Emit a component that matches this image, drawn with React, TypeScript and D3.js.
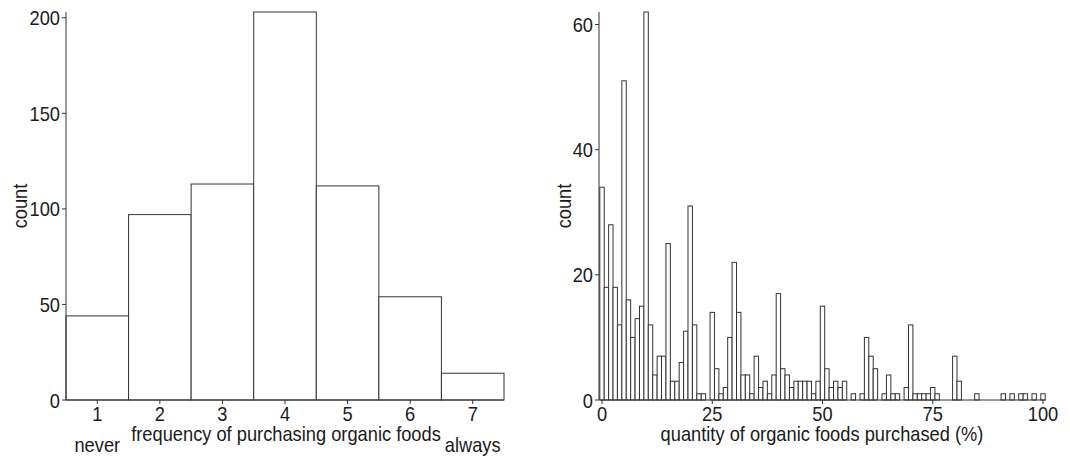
import React from "react";
import * as d3 from "d3";

// Frequency of purchasing organic foods (1 = never … 7 = always)
const frequencyLevels = [1, 2, 3, 4, 5, 6, 7];
const frequencyCounts = [44, 97, 113, 203, 112, 54, 14];
const frequencyTicks = [1, 2, 3, 4, 5, 6, 7];
const frequencyCountTicks = [0, 50, 100, 150, 200];

// Quantity of organic foods purchased (%), one bin per integer percent 0..100
const quantityCounts = [
  34, 18, 28, 18, 12, 51, 16, 10, 13, 15,
  62, 12, 4, 7, 7, 25, 3, 3, 6, 11,
  31, 12, 1, 1, 0, 14, 5, 1, 2, 10,
  22, 14, 4, 4, 1, 7, 2, 3, 1, 4,
  17, 5, 4, 2, 3, 3, 3, 3, 1, 3,
  15, 5, 2, 3, 2, 3, 0, 1, 0, 1,
  10, 7, 5, 0, 1, 4, 1, 1, 0, 2,
  12, 1, 1, 1, 1, 2, 1, 0, 0, 0,
  7, 3, 0, 0, 0, 1, 0, 0, 0, 0,
  0, 1, 0, 1, 0, 1, 1, 0, 1, 0,
  1,
];
const quantityTicks = [0, 25, 50, 75, 100];
const quantityCountTicks = [0, 20, 40, 60];

const FONT = "'Liberation Sans', Arial, sans-serif";
const INK = "#333333";
const TEXT = "#1a1a1a";
const FS = 21;
const SX = 0.87; // horizontal condensing of the sans face

const TOP = 12;
const BOTTOM = 400;

function Label({
  x,
  y,
  anchor = "middle",
  rotate = 0,
  dy,
  children,
}: {
  x: number;
  y: number;
  anchor?: string;
  rotate?: number;
  dy?: string;
  children: React.ReactNode;
}) {
  return (
    <text
      transform={`translate(${x},${y}) rotate(${rotate}) scale(${SX},1)`}
      textAnchor={anchor}
      dy={dy}
      fontSize={FS}
      fontFamily={FONT}
      fill={TEXT}
    >
      {children}
    </text>
  );
}

function YAxis({ x, y, ticks }: { x: number; y: d3.ScaleLinear<number, number>; ticks: number[] }) {
  const [r0, r1] = y.range();
  return (
    <g>
      <line x1={x} x2={x} y1={r0} y2={r1} stroke={INK} strokeWidth={1} />
      {ticks.map((t) => (
        <g key={t}>
          <line x1={x - 4} x2={x} y1={y(t)} y2={y(t)} stroke={INK} strokeWidth={1} />
          <Label x={x - 6} y={y(t)} anchor="end" dy="0.36em">
            {t}
          </Label>
        </g>
      ))}
    </g>
  );
}

function XAxis({ y, x, ticks }: { y: number; x: d3.ScaleLinear<number, number>; ticks: number[] }) {
  const [r0, r1] = x.range();
  return (
    <g>
      <line x1={r0} x2={r1} y1={y} y2={y} stroke={INK} strokeWidth={1} />
      {ticks.map((t) => (
        <g key={t}>
          <line x1={x(t)} x2={x(t)} y1={y} y2={y + 4} stroke={INK} strokeWidth={1} />
          <Label x={x(t)} y={y + 21}>
            {t}
          </Label>
        </g>
      ))}
    </g>
  );
}

export default function App() {
  // Left panel: frequency histogram
  const fx = d3.scaleLinear().domain([0.5, 7.5]).range([66, 504]);
  const fy = d3.scaleLinear().domain([0, d3.max(frequencyCounts) as number]).range([BOTTOM, TOP]);

  // Right panel: quantity histogram
  const qx = d3.scaleLinear().domain([-0.5, 100.5]).range([599.8, 1045.2]);
  const qy = d3.scaleLinear().domain([0, d3.max(quantityCounts) as number]).range([BOTTOM, TOP]);

  return (
    <svg
      width={1070}
      height={461}
      style={{ position: "absolute", left: 0, top: 0, background: "#fff" }}
    >
      <rect x={0} y={0} width={1070} height={461} fill="#fff" />

      {/* frequency bars */}
      <g>
        {frequencyLevels.map((lvl, i) => (
          <rect
            key={lvl}
            x={fx(lvl - 0.5)}
            y={fy(frequencyCounts[i])}
            width={fx(lvl + 0.5) - fx(lvl - 0.5)}
            height={fy(0) - fy(frequencyCounts[i])}
            fill="#fff"
            stroke={INK}
            strokeWidth={1}
          />
        ))}
      </g>
      <YAxis x={66} y={fy} ticks={frequencyCountTicks} />
      <XAxis y={BOTTOM} x={fx} ticks={frequencyTicks} />
      <Label x={fx(1)} y={452}>never</Label>
      <Label x={fx(7)} y={452}>always</Label>
      <Label x={286} y={441}>frequency of purchasing organic foods</Label>
      <Label x={27} y={206} rotate={-90}>count</Label>

      {/* quantity bars */}
      <g>
        {quantityCounts.map((c, v) => (
          <rect
            key={v}
            x={qx(v - 0.5)}
            y={qy(c)}
            width={qx(v + 0.5) - qx(v - 0.5)}
            height={qy(0) - qy(c)}
            fill="#fff"
            stroke={INK}
            strokeWidth={1}
          />
        ))}
      </g>
      <YAxis x={599} y={qy} ticks={quantityCountTicks} />
      <XAxis y={BOTTOM} x={qx} ticks={quantityTicks} />
      <Label x={822} y={441}>quantity of organic foods purchased (%)</Label>
      <Label x={571} y={206} rotate={-90}>count</Label>
    </svg>
  );
}
